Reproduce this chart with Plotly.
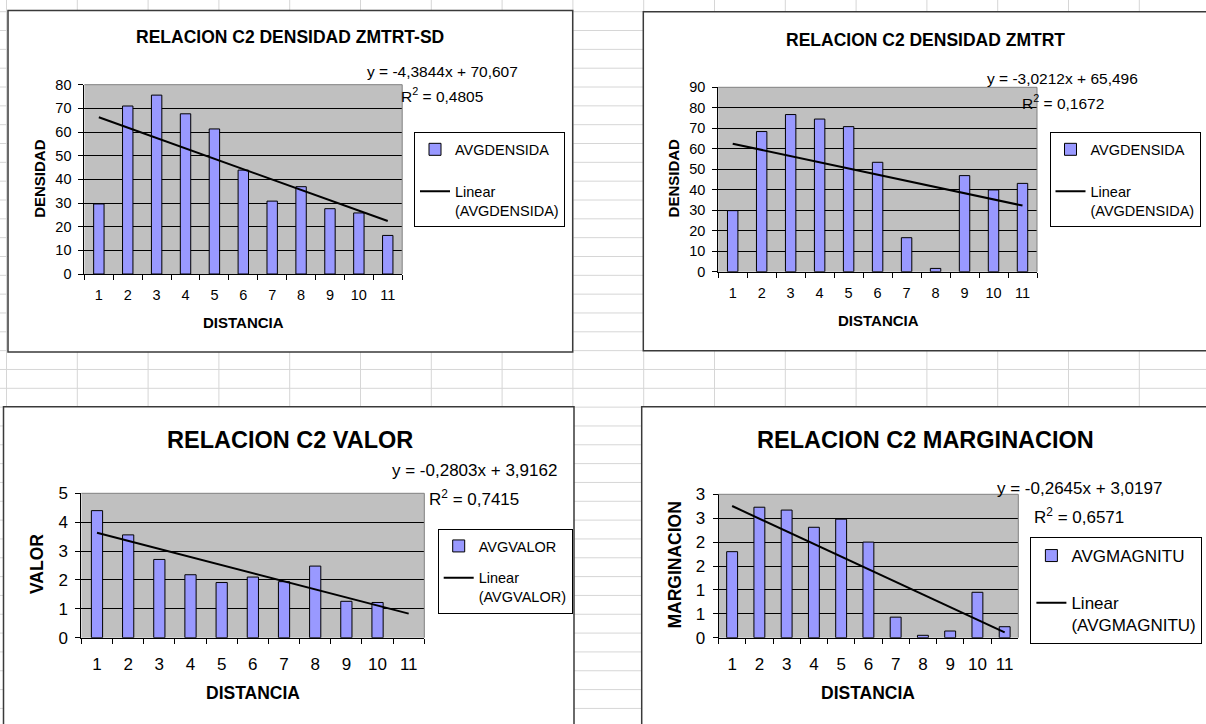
import plotly.graph_objects as go

W, H = 1206, 724

# ---------------- data ----------------
categories = ["1", "2", "3", "4", "5", "6", "7", "8", "9", "10", "11"]

densidad_zmtrt_sd = [29.6, 71.0, 75.6, 67.7, 61.3, 43.9, 30.8, 36.9, 27.6, 25.8, 16.3]
densidad_zmtrt = [29.8, 68.4, 76.7, 74.5, 70.8, 53.4, 16.6, 1.6, 46.9, 39.9, 43.1]
valor = [4.40, 3.56, 2.71, 2.18, 1.91, 2.10, 1.94, 2.48, 1.26, 1.22, None]
marginacion = [1.80, 2.73, 2.67, 2.31, 2.48, 2.00, 0.43, 0.05, 0.14, 0.95, 0.23]

slopes = [-4.3844, -3.0212, -0.2803, -0.2645]
intercepts = [70.607, 65.496, 3.9162, 3.0197]
r_squared = [0.4805, 0.1672, 0.7415, 0.6571]

titles = ["RELACION C2 DENSIDAD ZMTRT-SD", "RELACION C2 DENSIDAD ZMTRT",
          "RELACION C2 VALOR", "RELACION C2 MARGINACION"]
y_titles = ["DENSIDAD", "DENSIDAD", "VALOR", "MARGINACION"]
x_title = "DISTANCIA"
series_names = ["AVGDENSIDA", "AVGDENSIDA", "AVGVALOR", "AVGMAGNITU"]

y_tickvals = [
    [0, 10, 20, 30, 40, 50, 60, 70, 80],
    [0, 10, 20, 30, 40, 50, 60, 70, 80, 90],
    [0, 1, 2, 3, 4, 5],
    [0, 0.5, 1, 1.5, 2, 2.5, 3],
]
y_ticktext = [
    ["0", "10", "20", "30", "40", "50", "60", "70", "80"],
    ["0", "10", "20", "30", "40", "50", "60", "70", "80", "90"],
    ["0", "1", "2", "3", "4", "5"],
    ["0", "1", "1", "2", "2", "3", "3"],
]
series = [densidad_zmtrt_sd, densidad_zmtrt, valor, marginacion]

# ---------------- layout geometry (pixels) ----------------
FONT = "Liberation Sans, Arial, sans-serif"
charts = [
    dict(frame=(8, 10.5, 572.7, 352), plot=(84.4, 84.7, 402.2, 274),
         title=(290, 37.3), tsize=17.5, eq=(442, 71.7, 95), eqsize=15.5,
         legend=(414, 132.4), lsize=14.5, lgap=20, ytitle=(38.8, 178), xtitle=(243.4, 322.7),
         asize=15, ticksize=14.5, xstand=8, barw=0.36),
    dict(frame=(643.3, 11.7, 1215, 350.7), plot=(718.2, 87.3, 1037, 271.7),
         title=(925, 40), tsize=17.5, eq=(1062.6, 79, 101.7), eqsize=15.5,
         legend=(1049.5, 132.4), lsize=14.5, lgap=20, ytitle=(673.4, 178), xtitle=(878.4, 320.7),
         asize=15, ticksize=14.5, xstand=8, barw=0.36),
    dict(frame=(3.5, 406.7, 574, 735), plot=(81.4, 493.3, 424.3, 637.7),
         title=(289.5, 440), tsize=23.5, eq=(474, 470.7, 497.7), eqsize=17,
         legend=(437.7, 529), lsize=14.5, lgap=10, ytitle=(37, 564), xtitle=(253, 693.3),
         asize=17.5, ticksize=17, xstand=11, barw=0.36),
    dict(frame=(641.7, 406.7, 1215, 735), plot=(718.5, 494.3, 1018.3, 637.7),
         title=(925, 440), tsize=23.5, eq=(1079, 488.3, 515.7), eqsize=17,
         legend=(1030.4, 537), lsize=17, lgap=22, ytitle=(674, 565.5), xtitle=(868, 693.3),
         asize=17.5, ticksize=17, xstand=11, barw=0.40),
]


def px(x):
    return x / W


def py(y):
    return 1 - y / H


def fmt(v, spec):
    return format(v, spec).replace(".", ",")


fig = go.Figure()
shapes = []
annotations = []
layout = {}

# spreadsheet grid
COL_W, ROW_H = 70.8, 18.83
x = 6.5
while x < W:
    shapes.append(dict(type="line", xref="paper", yref="paper", x0=px(x), x1=px(x), y0=0, y1=1,
                       line=dict(color="#D6D6D6", width=1), layer="below"))
    x += COL_W
y = 11.7
while y < H:
    shapes.append(dict(type="line", xref="paper", yref="paper", x0=0, x1=1, y0=py(y), y1=py(y),
                       line=dict(color="#D6D6D6", width=1), layer="below"))
    y += ROW_H

# chart frames
for c in charts:
    fx0, fy0, fx1, fy1 = c["frame"]
    shapes.append(dict(type="rect", xref="paper", yref="paper", x0=px(fx0), x1=px(fx1),
                       y0=py(fy1), y1=py(fy0), fillcolor="white",
                       line=dict(color="#3A3A3A", width=1.5), layer="below"))

for i, c in enumerate(charts):
    n = "" if i == 0 else str(i + 1)
    xa, ya = "x" + n, "y" + n
    lg = "legend" + n
    X0, Y0, X1, Y1 = c["plot"]
    vals = series[i]
    ymax = y_tickvals[i][-1]

    layout["xaxis" + n] = dict(
        domain=[px(X0), px(X1)], anchor=ya, type="category", categoryorder="array",
        categoryarray=categories, range=[-0.5, len(categories) - 0.5],
        tickson="boundaries", ticks="outside", ticklen=5, tickcolor="black", tickwidth=1,
        showline=True, linecolor="black", linewidth=1, showgrid=False, zeroline=False,
        tickangle=0, automargin=False,
        tickfont=dict(family=FONT, size=c["ticksize"], color="black"),
        ticklabelstandoff=c["xstand"], fixedrange=True)
    layout["yaxis" + n] = dict(
        domain=[py(Y1), py(Y0)], anchor=xa, range=[0, ymax],
        tickvals=y_tickvals[i], ticktext=y_ticktext[i],
        ticks="outside", ticklen=5, tickcolor="black", tickwidth=1,
        showline=True, linecolor="black", linewidth=1, automargin=False,
        showgrid=True, gridcolor="black", gridwidth=1, zeroline=False,
        tickfont=dict(family=FONT, size=c["ticksize"], color="black"), ticklabelstandoff=4,
        fixedrange=True)

    # plot area background and its gray border (top / right)
    shapes.append(dict(type="rect", xref="paper", yref="paper", x0=px(X0), x1=px(X1),
                       y0=py(Y1), y1=py(Y0), fillcolor="#C0C0C0",
                       line=dict(width=0), layer="below"))
    shapes.append(dict(type="line", xref="paper", yref="paper", x0=px(X0), x1=px(X1),
                       y0=py(Y0), y1=py(Y0), line=dict(color="#808080", width=1), layer="above"))
    shapes.append(dict(type="line", xref="paper", yref="paper", x0=px(X1), x1=px(X1),
                       y0=py(Y1), y1=py(Y0), line=dict(color="#808080", width=1), layer="above"))

    fig.add_trace(go.Bar(
        x=categories, y=vals, xaxis=xa, yaxis=ya, name=series_names[i],
        width=c["barw"], marker=dict(color="#9999FF", line=dict(color="black", width=1)),
        legend=lg, legendgroup="bars%d" % i, hoverinfo="x+y"))

    trend = [slopes[i] * (k + 1) + intercepts[i] for k in range(len(categories))]
    fig.add_trace(go.Scatter(
        x=categories, y=trend, xaxis=xa, yaxis=ya, mode="lines",
        name="Linear<br>(%s)" % series_names[i], line=dict(color="black", width=2),
        legend=lg, legendgroup="trend%d" % i))

    lx, ly = c["legend"]
    layout[lg] = dict(x=px(lx), y=py(ly), xanchor="left", yanchor="top",
                      bgcolor="white", bordercolor="black", borderwidth=1,
                      font=dict(family=FONT, size=c["lsize"], color="black"),
                      traceorder="grouped", tracegroupgap=c["lgap"], valign="top",
                      itemclick=False, itemdoubleclick=False)

    # title
    tx, ty = c["title"]
    annotations.append(dict(text="<b>%s</b>" % titles[i], x=px(tx), y=py(ty), xref="paper",
                            yref="paper", xanchor="center", yanchor="middle", showarrow=False,
                            font=dict(family=FONT, size=c["tsize"], color="black")))
    # equation + R2
    ex, ey1, ey2 = c["eq"]
    sign = "+" if intercepts[i] >= 0 else "-"
    eq_text = "y = %sx %s %s" % (fmt(slopes[i], ".5g"), sign, fmt(abs(intercepts[i]), ".5g"))
    r2_text = "R<sup>2</sup> = %s" % fmt(r_squared[i], ".4f")
    annotations.append(dict(text=eq_text, x=px(ex), y=py(ey1), xref="paper", yref="paper",
                            xanchor="center", yanchor="middle", showarrow=False,
                            font=dict(family=FONT, size=c["eqsize"], color="black")))
    annotations.append(dict(text=r2_text, x=px(ex), y=py(ey2), xref="paper", yref="paper",
                            xanchor="center", yanchor="middle", showarrow=False,
                            font=dict(family=FONT, size=c["eqsize"], color="black")))
    # axis titles
    yx, yy = c["ytitle"]
    annotations.append(dict(text="<b>%s</b>" % y_titles[i], x=px(yx), y=py(yy), xref="paper",
                            yref="paper", xanchor="center", yanchor="middle", showarrow=False,
                            textangle=-90,
                            font=dict(family=FONT, size=c["asize"], color="black")))
    xx, xy = c["xtitle"]
    annotations.append(dict(text="<b>%s</b>" % x_title, x=px(xx), y=py(xy), xref="paper",
                            yref="paper", xanchor="center", yanchor="middle", showarrow=False,
                            font=dict(family=FONT, size=c["asize"], color="black")))

fig.update_layout(
    width=W, height=H, margin=dict(l=0, r=0, t=0, b=0, autoexpand=False),
    paper_bgcolor="white", plot_bgcolor="rgba(0,0,0,0)",
    showlegend=True, shapes=shapes, annotations=annotations, **layout)

fig.write_html("out.html", config={"displayModeBar": False})
